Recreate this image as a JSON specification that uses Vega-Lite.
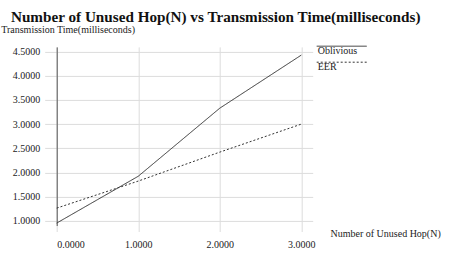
{
  "$schema": "https://vega.github.io/schema/vega-lite/v6.json",
  "autosize": "none",
  "width": 256,
  "height": 178.6,
  "padding": {"left": 56.7, "top": 46.9, "right": 137.3, "bottom": 38.5},
  "background": "white",
  "title": {
    "text": "Number of Unused Hop(N) vs Transmission Time(milliseconds)",
    "font": "Liberation Serif",
    "fontSize": 15.2,
    "fontWeight": "bold",
    "color": "#111",
    "anchor": "middle",
    "dx": 31,
    "baseline": "alphabetic",
    "offset": -12
  },
  "config": {
    "view": {"stroke": null},
    "font": "Liberation Serif",
    "axis": {
      "labelFont": "Liberation Serif",
      "titleFont": "Liberation Serif",
      "labelFontSize": 10,
      "titleFontSize": 10,
      "labelColor": "#222",
      "titleColor": "#222",
      "titleFontWeight": "normal",
      "gridColor": "#dcdcdc",
      "tickColor": "#dcdcdc"
    }
  },
  "data": {
    "values": [
      {"hop": 0, "time": 0.95, "series": "Oblivious"},
      {"hop": 1, "time": 1.92, "series": "Oblivious"},
      {"hop": 2, "time": 3.33, "series": "Oblivious"},
      {"hop": 3, "time": 4.43, "series": "Oblivious"},
      {"hop": 0, "time": 1.26, "series": "EER"},
      {"hop": 1, "time": 1.82, "series": "EER"},
      {"hop": 2, "time": 2.42, "series": "EER"},
      {"hop": 3, "time": 3.0, "series": "EER"}
    ]
  },
  "mark": {"type": "line", "strokeWidth": 1, "color": "#333333"},
  "encoding": {
    "x": {
      "field": "hop",
      "type": "quantitative",
      "scale": {"domain": [0, 3.14], "nice": false, "zero": false},
      "axis": {
        "values": [0, 1, 2, 3],
        "format": ".4f",
        "domain": false,
        "tickSize": 6,
        "labelPadding": 8,
        "title": "Number of Unused Hop(N)",
        "titleAlign": "left",
        "titleBaseline": "middle",
        "titleAnchor": "start",
        "titleX": 273.3,
        "titleY": 7.8
      }
    },
    "y": {
      "field": "time",
      "type": "quantitative",
      "scale": {"domain": [0.9, 4.6], "nice": false, "zero": false},
      "axis": {
        "values": [1, 1.5, 2, 2.5, 3, 3.5, 4, 4.5],
        "format": ".4f",
        "domain": true,
        "domainColor": "#555",
        "tickSize": 12,
        "labelPadding": 5,
        "title": "Transmission Time(milliseconds)",
        "titleAngle": 0,
        "titleAlign": "left",
        "titleBaseline": "middle",
        "titleX": -56,
        "titleY": -17
      }
    },
    "strokeDash": {
      "field": "series",
      "type": "nominal",
      "sort": ["Oblivious", "EER"],
      "scale": {"domain": ["Oblivious", "EER"], "range": [[1, 0], [2, 2]]},
      "legend": {
        "title": null,
        "orient": "none",
        "legendX": 260,
        "legendY": -6.2,
        "symbolType": "M-5,0H5",
        "symbolSize": 100,
        "symbolStrokeWidth": 1,
        "symbolStrokeColor": "#333",
        "symbolOffset": 19.5,
        "labelOffset": -29.5,
        "labelBaseline": "top",
        "labelFont": "Liberation Serif",
        "labelFontSize": 10,
        "labelColor": "#222",
        "rowPadding": -5,
        "padding": 0
      }
    }
  }
}
